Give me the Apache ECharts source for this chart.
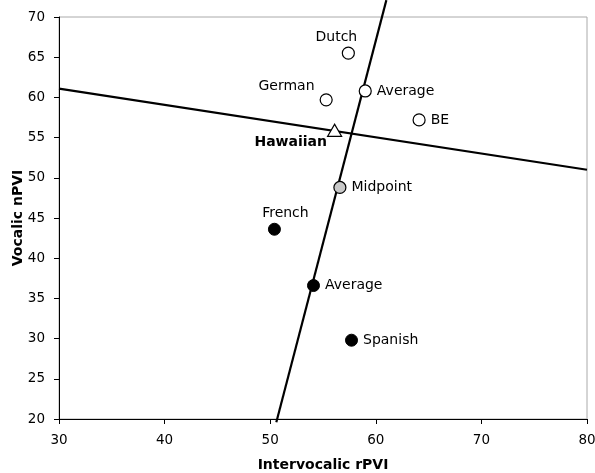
<!DOCTYPE html>
<html><head><meta charset="utf-8">
<script src="https://cdn.jsdelivr.net/npm/echarts@6/dist/echarts.min.js"></script>
<style>html,body{margin:0;padding:0;background:#fff}#c{width:595px;height:473px}</style>
</head><body><div id="c"></div>
<script>
// Open circles
const openNames = ['Dutch', 'German', 'Average', 'BE'];
const openX = [57.4, 55.3, 59.0, 64.1];
const openY = [65.5, 59.7, 60.8, 57.2];
// Filled circles
const filledNames = ['French', 'Average', 'Spanish'];
const filledX = [50.4, 54.1, 57.7];
const filledY = [43.6, 36.6, 29.8];
// Midpoint
const midNames = ['Midpoint'];
const midX = [56.6];
const midY = [48.8];
// Hawaiian
const hawNames = ['Hawaiian'];
const hawX = [56.1];
const hawY = [55.9];
// Lines (endpoints)
const steepX = [50.58, 61.0];
const steepY = [19.6, 72.1];
const flatX = [30, 80];
const flatY = [61.1, 51.0];

const FONT = 'DejaVu Sans';
const labelPos = {
  'Dutch': {position: 'top', offset: [-12, 3]},
  'German': {position: 'left', offset: [0, -13]},
  'Average': {position: 'right'},
  'BE': {position: 'right'},
  'French': {position: 'top', offset: [11, 3]},
  'Spanish': {position: 'right'},
  'Midpoint': {position: 'right'},
  'Hawaiian': {position: 'left', offset: [0, 12], fontWeight: 'bold', distance: 0}
};
function pts(names, xs, ys) {
  return names.map((n, i) => {
    const lp = labelPos[n];
    return {name: n, value: [xs[i], ys[i]], label: Object.assign({show: true, formatter: n}, lp)};
  });
}
const baseLabel = {fontFamily: FONT, fontSize: 14, color: '#000', distance: 5, opacity: 1};

const chart = echarts.init(document.getElementById('c'));
chart.setOption({
  animation: false,
  grid: {left: 59, right: 8, top: 17, bottom: 54, containLabel: false, outerBoundsMode: 'none',
         show: true, borderColor: '#aaaaaa', borderWidth: 1},
  xAxis: {
    type: 'value', min: 30, max: 80, interval: 10,
    name: 'Intervocalic rPVI', nameLocation: 'middle', nameGap: 39, nameMoveOverlap: false,
    nameTextStyle: {fontFamily: FONT, fontSize: 14, fontWeight: 'bold', color: '#000'},
    axisLine: {show: true, lineStyle: {color: '#000', width: 1}},
    axisTick: {show: true, inside: false, length: 5, lineStyle: {color: '#000'}},
    axisLabel: {fontFamily: FONT, fontSize: 13.5, color: '#000', margin: 14},
    splitLine: {show: false}
  },
  yAxis: {
    type: 'value', min: 20, max: 70, interval: 5,
    name: 'Vocalic nPVI', nameLocation: 'middle', nameGap: 34, nameRotate: 90, nameMoveOverlap: false,
    nameTextStyle: {fontFamily: FONT, fontSize: 14, fontWeight: 'bold', color: '#000'},
    axisLine: {show: true, lineStyle: {color: '#000', width: 1}},
    axisTick: {show: true, inside: false, length: 5, lineStyle: {color: '#000'}},
    axisLabel: {fontFamily: FONT, fontSize: 13.5, color: '#000', margin: 14},
    splitLine: {show: false}
  },
  series: [
    {type: 'line', data: steepX.map((x, i) => [x, steepY[i]]), clip: false, symbol: 'none',
     lineStyle: {color: '#000', width: 2.2}, z: 1, silent: true},
    {type: 'line', data: flatX.map((x, i) => [x, flatY[i]]), clip: false, symbol: 'none',
     lineStyle: {color: '#000', width: 2.2}, z: 1, silent: true},
    {type: 'scatter', data: pts(openNames, openX, openY), symbol: 'circle', symbolSize: 12,
     itemStyle: {color: '#fff', borderColor: '#000', borderWidth: 1.2, opacity: 1}, label: baseLabel, z: 3},
    {type: 'scatter', data: pts(filledNames, filledX, filledY), symbol: 'circle', symbolSize: 12,
     itemStyle: {color: '#000', borderColor: '#000', borderWidth: 1, opacity: 1}, label: baseLabel, z: 3},
    {type: 'scatter', data: pts(midNames, midX, midY), symbol: 'circle', symbolSize: 12,
     itemStyle: {color: '#c8c8c8', borderColor: '#000', borderWidth: 1.2, opacity: 1}, label: baseLabel, z: 3},
    {type: 'scatter', data: pts(hawNames, hawX, hawY), symbol: 'triangle', symbolSize: [14, 12],
     itemStyle: {color: '#fff', borderColor: '#000', borderWidth: 1.2, opacity: 1}, label: baseLabel, z: 3}
  ]
});
</script></body></html>
